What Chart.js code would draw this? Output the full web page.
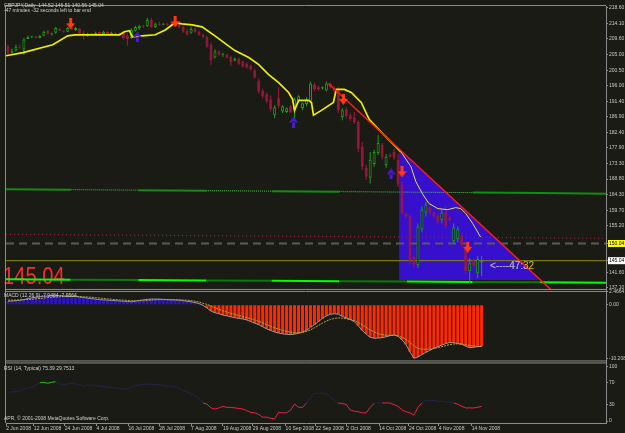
<!DOCTYPE html>
<html>
<head>
<meta charset="utf-8">
<script src="https://cdn.jsdelivr.net/npm/chart.js@4.4.1/dist/chart.umd.min.js"></script>
<style>
html,body{margin:0;padding:0;background:#1b1b15;overflow:hidden;}
canvas{display:block;}
</style>
</head>
<body>
<canvas id="c" width="625" height="433"></canvas>
<script>
// ---------------- DATA ----------------
const opens = [207.3,205.6,206.2,207.3,206.5,209.6,210.2,210.2,209.9,210.5,
212.0,211.1,211.4,212.5,212.0,211.7,212.8,212.2,212.5,211.4,
210.5,211.1,211.0,211.6,211.0,211.6,211.0,211.4,211.1,211.7,
210.5,209.9,212.0,212.8,213.4,213.3,215.1,213.1,214.0,213.7,
214.0,214.0,213.7,214.6,213.1,212.0,211.4,212.5,211.7,210.8,
210.2,207.9,204.2,205.9,205.0,205.0,204.4,203.3,203.9,203.0,
202.4,201.8,200.4,197.5,194.6,193.5,192.0,187.4,192.3,188.5,
188.3,190.0,188.8,191.4,189.4,190.6,191.4,196.3,195.5,195.2,
194.6,196.6,195.2,194.9,186.8,189.1,187.4,186.8,185.4,178.1,
172.1,169.2,173.2,176.4,178.7,172.9,175.8,176.7,174.4,167.2,
158.8,157.9,146.1,143.7,154.2,159.1,160.5,159.1,158.2,156.8,
159.4,157.6,150.7,151.3,152.4,149.0,142.0,145.2,141.4,144.52];
const highs = [207.9,206.8,207.9,207.9,209.9,210.5,210.5,210.5,210.8,212.0,
212.2,211.4,213.1,212.8,212.2,213.1,213.1,213.1,212.8,212.0,
211.4,211.4,211.7,211.7,212.0,211.8,211.7,211.7,211.4,212.0,
211.4,212.8,213.4,213.7,213.7,215.7,215.7,214.3,214.6,214.3,
214.3,214.6,215.7,214.8,213.4,212.5,213.1,212.8,212.0,211.1,
210.5,208.5,206.5,206.2,205.6,205.3,204.7,204.2,204.2,203.3,
202.7,202.1,201.0,198.1,195.2,194.0,193.2,190.3,195.5,190.3,
189.7,190.3,192.6,193.2,191.1,192.6,197.2,196.9,196.1,195.8,
197.2,196.9,195.8,195.5,189.4,189.7,188.0,188.3,185.9,179.6,
172.9,176.7,177.3,181.6,179.3,176.1,176.4,177.6,176.1,168.0,
159.1,158.5,146.6,155.9,160.8,162.2,160.8,159.4,158.5,159.9,
160.8,158.2,155.9,155.0,153.0,149.5,145.8,145.8,146.4,146.51];
const lows = [204.7,205.3,205.9,206.8,205.0,209.6,209.9,209.9,209.8,210.4,
210.8,210.5,211.1,212.0,211.4,211.6,212.2,211.9,210.8,209.4,
210.2,210.8,210.9,210.9,210.9,210.9,210.9,210.8,210.8,209.4,
207.6,209.6,211.7,212.2,212.8,213.1,212.8,212.8,213.4,213.6,
213.4,213.4,213.6,212.8,211.4,210.5,211.1,211.4,210.5,209.9,
207.0,202.1,203.9,204.7,204.4,203.9,201.8,203.0,202.1,201.3,
201.0,200.4,198.1,193.7,192.3,190.9,188.5,186.5,189.4,188.0,
188.0,188.0,186.2,190.9,188.8,190.0,190.9,194.3,194.6,194.9,
194.3,195.2,193.7,188.0,185.9,186.5,185.7,184.8,176.7,171.5,
168.6,167.5,172.4,175.8,174.4,172.1,175.0,174.4,166.6,158.5,
157.6,144.0,143.2,142.9,153.3,157.9,158.5,157.6,155.6,155.9,
154.4,156.5,149.8,150.4,149.0,141.1,138.5,143.2,140.0,140.56];
const closes = [205.6,206.2,207.3,207.0,209.4,210.2,210.3,209.9,210.5,211.7,
211.1,211.4,212.8,212.0,211.7,212.8,212.5,212.8,211.1,210.8,
211.1,211.0,211.4,211.0,211.7,211.0,211.4,211.1,211.0,209.9,
209.6,212.2,213.1,213.4,213.3,215.1,213.1,214.0,213.7,214.0,
213.7,213.7,214.8,213.1,211.7,210.8,212.5,211.7,210.8,210.2,
207.3,203.3,205.9,205.0,205.3,204.2,202.7,203.9,202.4,201.6,
201.3,200.7,198.4,194.3,192.9,191.4,189.1,189.7,190.0,190.0,
189.4,188.3,192.0,192.9,190.9,192.0,196.6,194.9,194.9,195.5,
196.6,195.5,194.3,188.8,188.8,187.1,186.2,185.4,177.6,172.4,
169.5,174.4,176.7,179.3,175.3,175.3,175.3,175.0,167.2,158.8,
157.9,145.5,144.0,155.0,159.9,161.4,159.1,157.9,156.2,159.1,
155.3,156.8,154.7,154.2,149.5,142.0,144.3,143.7,145.5,145.04];

// yellow moving line (key points: bar index, price)
const yellowX = [-0.5,3.75,11.25,15,16.75,28,29.25,30.5,31.25,33.75,37,39.5,42,43.75,46.25,48.75,52,57,60.5,63,65.5,68,70.5,71.5,72,73,75.5,76.25,76.75,78.75,81.75,82.5,84.5,86.25,88.75,90.75,93.75,96.25,98.75];
const yellowY = [204.7,205.6,207.9,210.5,210.8,210.8,211.7,212.0,210.2,210.5,210.8,212.2,214.3,214.0,213.7,213.1,210.5,206.2,204.2,202.1,199.2,196.9,194.0,192.0,188.8,191.7,191.7,191.1,187.4,188.8,191.1,194.9,194.9,194.0,191.1,186.2,182.5,179.6,176.7];
const yellowThinX = [98.75,101.25,102.5,104.25,105.75,108,110.5,112.5,113.75,115,116.75,118.75];
const yellowThinY = [176.7,172.4,168.0,164.3,161.7,160.2,159.9,160.5,160.2,158.8,155.9,151.9];

// red trend line and the filled triangle under it
const trendX = [80.5, 137];
const trendY = [196.6, 136.0];
const triangleX = [98.25, 133.8];
const triangleY = [177.56, 139.41];

// horizontal / near-horizontal level lines
const greenLineX = [-1.25,15.75,32.75,49.75,66.25,83.25,100.25,116.75,133.75,150.25];
const greenLineY = [165.86,165.72,165.57,165.43,165.28,165.14,165.0,164.86,164.71,164.56];
const greenLineSolid = [true,false,true,false,true,false,false,true,true];
const limeLineX = [-1.25,15.75,32.75,49.75,66.25,83.25,100.25,116.75,133.75,150.25];
const limeLineY = [139.61,139.5,139.39,139.28,139.17,139.06,138.95,138.84,138.74,138.63];
const limeLineBright = [true,false,true,false,true,false,true,false,true];
const dottedLineY = [152.71, 151.55];
const dashedLevel = 150.04;
const bidLevel = 145.04;

// fractal arrows
const downArrowX = [15.75, 42, 84.25, 99, 115.5];
const downArrowY = [214.0, 214.55, 192.0, 170.9, 148.95];
const upArrowX = [32.5, 71.75, 96.25];
const upArrowY = [210.2, 185.4, 170.3];

// MACD
const macdMain = [0.7,0.75,0.8,0.9,1.0,1.2,1.35,1.45,1.55,1.65,
1.7,1.75,1.75,1.75,1.7,1.7,1.65,1.6,1.5,1.4,
1.3,1.2,1.1,1.0,0.95,0.9,0.85,0.8,0.75,0.7,
0.65,0.6,0.7,0.85,0.95,1.05,1.1,1.1,1.1,1.05,
1.0,0.95,0.95,0.9,0.8,0.7,0.6,0.45,0.25,-0.1,
-0.6,-1.2,-1.5,-1.7,-1.95,-2.1,-2.3,-2.45,-2.6,-2.7,
-2.9,-3.2,-3.5,-3.8,-4.2,-4.6,-4.9,-5.2,-5.4,-5.55,
-5.65,-5.7,-5.6,-5.45,-5.2,-4.9,-4.3,-3.8,-3.2,-2.6,
-2.1,-1.8,-1.7,-1.8,-2.2,-2.5,-2.8,-3.2,-4.0,-4.9,
-5.6,-6.2,-6.4,-6.35,-6.3,-6.1,-5.9,-5.75,-6.0,-6.7,
-7.6,-9.0,-10.21,-10.0,-9.5,-9.1,-8.7,-8.3,-8.0,-7.7,
-7.4,-7.2,-7.25,-7.4,-7.55,-7.9,-8.2,-8.1,-8.0,-7.95];
const macdSignal = [0.9,0.9,0.92,0.95,0.98,1.02,1.08,1.15,1.22,1.3,
1.38,1.45,1.5,1.55,1.58,1.6,1.6,1.6,1.58,1.55,
1.5,1.45,1.38,1.3,1.22,1.15,1.08,1.0,0.95,0.9,
0.85,0.8,0.78,0.78,0.8,0.85,0.9,0.95,0.98,1.0,
1.0,1.0,0.98,0.95,0.92,0.88,0.8,0.7,0.55,0.3,
0.1,-0.2,-0.55,-0.85,-1.15,-1.4,-1.65,-1.85,-2.05,-2.25,
-2.45,-2.65,-2.9,-3.15,-3.45,-3.8,-4.1,-4.4,-4.65,-4.9,
-5.1,-5.25,-5.35,-5.35,-5.3,-5.1,-4.8,-4.4,-3.95,-3.5,
-3.1,-2.8,-2.6,-2.5,-2.55,-2.65,-2.8,-3.0,-3.35,-3.8,
-4.3,-4.8,-5.2,-5.5,-5.7,-5.8,-5.85,-5.85,-5.95,-6.2,
-6.6,-7.2,-7.9,-8.3,-8.5,-8.5,-8.45,-8.35,-8.2,-8.0,
-7.8,-7.6,-7.5,-7.45,-7.5,-7.6,-7.8,-7.9,-7.95,-7.95];

// RSI
const rsiValues = [53,53,54,55,58,60,62,66,70,71,
69,71,72,68,67,68,69,68,66,64,
66,66,65,64,63,62,61,61,60,58,
59,62,65,66,67,68,67,67,66,65,
64,64,63,60,56,53,50,46,42,33,
31,24,22,24,27,25,25,24,23,22,
19,16,15,12,7,7,5,4,16,15,
15,20,31,25,25,33,42,51,51,51,
50,45,38,33,32,30,20,18,17,15,
15,25,32,34,33,33,33,30,27,20,
17,15,11,25,33,38,38,37,36,36,
35,34,33,31,27,24,24,24,25,27];

// axis ticks
const priceTicks = [218.6,214.1,209.6,205.0,200.5,196.0,191.4,186.9,182.4,177.9,173.3,168.8,164.3,159.7,155.2,150.04,145.04,141.6,137.1];
const priceTickLabels = ['218.60','214.10','209.60','205.00','200.50','196.00','191.40','186.90','182.40','177.90','173.30','168.80','164.30','159.70','155.20','150.04','145.04','141.60','137.10'];
const macdTicks = [2.4664, 0, -10.2086];
const macdTickLabels = ['2.4664','0.00','-10.2086'];
const rsiTicks = [100, 70, 30, 0];
const rsiTickLabels = ['100','70','30','0'];
const dateLabels = ['2 Jun 2008','12 Jun 2008','24 Jun 2008','4 Jul 2008','16 Jul 2008','28 Jul 2008','7 Aug 2008','19 Aug 2008','29 Aug 2008','10 Sep 2008','22 Sep 2008','2 Oct 2008','14 Oct 2008','24 Oct 2008','4 Nov 2008','14 Nov 2008'];
const dateTickBars = [-0.45,6.5,14.25,22.25,30.25,38,46,54,61.5,69.75,77.25,85,93.25,100.75,108.25,116.5];

// texts
const titleText = 'GBPJPY,Daily  144.52 146.51 140.56 145.04';
const timerText = '-47 minutes -32 seconds left to bar end';
const bigPriceText = '145.04';
const timerArrowText = '<----47:32';
const macdTitle = 'MACD (12,26,9) -7.9484 -7.9564';
const rsiTitle = 'RSI (14, Typical) 75.39 29.7513';
const copyText = 'APR, \u00A9 2001-2008 MetaQuotes Software Corp.';

// ---------------- CHART ----------------
const BG = '#1b1b15';
const UPC = '#1aa01a', DNC = '#a0183c';
const FONT = "'Liberation Sans', Arial, sans-serif";
const AXC = '#8c8c8c';
const X_MIN = -0.5, X_MAX = 150.25;

const bars = opens.map((_, i) => i);
const isUp = i => closes[i] >= opens[i];
const pts = (xs, ys) => xs.map((x, i) => ({x: x, y: ys[i]}));
const hline = v => [{x: X_MIN, y: v}, {x: X_MAX, y: v}];

function arrowImg(color, down) {
  const c = document.createElement('canvas');
  c.width = 9; c.height = 11;
  const g = c.getContext('2d');
  g.fillStyle = color;
  g.beginPath();
  if (down) {
    g.rect(3, 0, 3, 6);
    g.moveTo(0, 5); g.lineTo(9, 5); g.lineTo(4.5, 11); g.closePath();
  } else {
    g.rect(3, 5, 3, 6);
    g.moveTo(0, 6); g.lineTo(9, 6); g.lineTo(4.5, 0); g.closePath();
  }
  g.fill();
  return c;
}

const lineBase = {type: 'line', pointRadius: 0, tension: 0, fill: false, clip: 0};

const datasets = [
  Object.assign({}, lineBase, {
    label: 'triangle', yAxisID: 'yMain', data: pts(triangleX, triangleY),
    fill: {value: triangleY[1]}, backgroundColor: '#3610cc', borderWidth: 0, order: 30
  }),
  Object.assign({}, lineBase, {
    label: 'green level', yAxisID: 'yMain', data: pts(greenLineX, greenLineY), order: 20,
    borderWidth: 2, borderColor: '#128c12',
    segment: {
      borderColor: c => greenLineSolid[c.p0DataIndex] ? '#128c12' : '#3ccc3c',
      borderDash: c => greenLineSolid[c.p0DataIndex] ? [] : [1, 1],
      borderWidth: c => greenLineSolid[c.p0DataIndex] ? 2 : 1
    }
  }),
  Object.assign({}, lineBase, {
    label: 'lime level', yAxisID: 'yMain', data: pts(limeLineX, limeLineY), order: 20,
    borderWidth: 2, borderColor: '#00ff00',
    segment: { borderColor: c => limeLineBright[c.p0DataIndex] ? '#00ff00' : '#0a7a0a' }
  }),
  Object.assign({}, lineBase, {
    label: 'dotted level', yAxisID: 'yMain', data: pts([X_MIN, X_MAX], dottedLineY), order: 20,
    borderWidth: 1, borderColor: '#a82048', borderDash: [1, 3]
  }),
  Object.assign({}, lineBase, {
    label: 'dashed level', yAxisID: 'yMain', data: hline(dashedLevel), order: 20,
    borderWidth: 2, borderColor: '#5a5a5a', borderDash: [8, 5]
  }),
  Object.assign({}, lineBase, {
    label: 'bid', yAxisID: 'yMain', data: hline(bidLevel), order: 20,
    borderWidth: 1, borderColor: '#8a8a00'
  }),
  {
    type: 'bar', label: 'wicks', yAxisID: 'yMain', order: 12, clip: 0,
    data: bars.map(i => ({x: i, y: [lows[i], highs[i]]})),
    backgroundColor: c => isUp(c.dataIndex) ? UPC : DNC,
    barThickness: 1, maxBarThickness: 1, categoryPercentage: 1, barPercentage: 1,
    grouped: false, inflateAmount: 0, borderWidth: 0
  },
  {
    type: 'bar', label: 'bodies', yAxisID: 'yMain', order: 11, clip: 0,
    data: bars.map(i => {
      let a = Math.min(opens[i], closes[i]), b = Math.max(opens[i], closes[i]);
      if (b - a < 0.3) { const m = (a + b) / 2; a = m - 0.15; b = m + 0.15; }
      return {x: i, y: [a, b]};
    }),
    backgroundColor: c => isUp(c.dataIndex) ? BG : DNC,
    borderColor: c => isUp(c.dataIndex) ? UPC : DNC,
    borderWidth: 1, borderSkipped: false,
    barThickness: 3, maxBarThickness: 3, categoryPercentage: 1, barPercentage: 1,
    grouped: false, inflateAmount: 0
  },
  Object.assign({}, lineBase, {
    label: 'yellow', yAxisID: 'yMain', data: pts(yellowX, yellowY), order: 8,
    borderWidth: 1.7, borderColor: '#eeee00'
  }),
  Object.assign({}, lineBase, {
    label: 'yellow thin', yAxisID: 'yMain', data: pts(yellowThinX, yellowThinY), order: 8,
    borderWidth: 1, borderColor: '#e2e24a'
  }),
  Object.assign({}, lineBase, {
    label: 'trend', yAxisID: 'yMain', data: pts(trendX, trendY), order: 6,
    borderWidth: 1.5, borderColor: '#ff1a1a'
  }),
  {
    type: 'scatter', label: 'down', yAxisID: 'yMain', order: 2, clip: 0,
    data: pts(downArrowX, downArrowY), pointStyle: arrowImg('#ff3a10', true), pointRadius: 5
  },
  {
    type: 'scatter', label: 'up', yAxisID: 'yMain', order: 2, clip: 0,
    data: pts(upArrowX, upArrowY), pointStyle: arrowImg('#4a1ad8', false), pointRadius: 5
  },
  // MACD panel
  {
    type: 'bar', label: 'macd hist', yAxisID: 'yMacd', order: 12, clip: 0,
    data: bars.map(i => ({x: i, y: macdMain[i]})),
    backgroundColor: c => macdMain[c.dataIndex] >= 0 ? '#2c14c4' : '#ff2a00',
    barThickness: 3, maxBarThickness: 3, categoryPercentage: 1, barPercentage: 1,
    grouped: false, inflateAmount: 0, borderWidth: 0
  },
  Object.assign({}, lineBase, {
    label: 'macd line', yAxisID: 'yMacd', data: pts(bars, macdMain), order: 8,
    borderWidth: 1, borderColor: '#9a9a9a'
  }),
  Object.assign({}, lineBase, {
    label: 'macd signal', yAxisID: 'yMacd', data: pts(bars, macdSignal), order: 7,
    borderWidth: 1, borderColor: '#b8a43a', borderDash: [2, 1]
  }),
  // RSI panel
  Object.assign({}, lineBase, {
    label: 'rsi', yAxisID: 'yRsi', data: pts(bars, rsiValues), order: 8,
    borderWidth: 1, borderColor: '#22224a',
    segment: {
      borderColor: c => {
        const a = c.p0.parsed.y, b = c.p1.parsed.y;
        if (a <= 33 && b <= 33) return '#ee1f45';
        if (a >= 69 && b >= 69) return '#22c022';
        return '#22224a';
      }
    }
  })
];

function yAxis(weight, min, max, ticks, labels) {
  return {
    type: 'linear', position: 'right', stack: 'panes', stackWeight: weight, min: min, max: max, offset: false,
    afterFit: s => { s.width = 19; s.paddingTop = 0; s.paddingBottom = 0; },
    afterBuildTicks: s => { s.ticks = ticks.map(v => ({value: v})); },
    grid: {drawOnChartArea: false, drawTicks: true, tickLength: 2, color: AXC},
    border: {display: true, color: AXC},
    ticks: {
      autoSkip: false, padding: 1, color: '#c8c8c8',
      font: {family: FONT, size: 5},
      callback: (v, i) => labels[i]
    }
  };
}

const mainAxis = yAxis(286, 136.52, 219.18, priceTicks, priceTickLabels);
mainAxis.ticks.color = c => (c.index === 15 || c.index === 16) ? '#000000' : '#c8c8c8';
mainAxis.ticks.showLabelBackdrop = c => (c.index === 15 || c.index === 16);
mainAxis.ticks.backdropColor = c => c.index === 15 ? '#ffff00' : '#ffffff';
mainAxis.ticks.backdropPadding = {top: 0.5, bottom: 0.5, left: 1, right: 4};

const decor = {
  id: 'decor',
  beforeDraw(chart) {
    const g = chart.ctx;
    g.save(); g.fillStyle = BG; g.fillRect(0, 0, chart.width, chart.height); g.restore();
  },
  beforeDatasetsDraw(chart) {
    const g = chart.ctx;
    g.save();
    g.fillStyle = '#ff2a2a';
    g.font = '24px ' + FONT;
    g.textBaseline = 'alphabetic';
    g.translate(3, 283.5);
    g.scale(0.84, 1);
    g.fillText(bigPriceText, 0, 0);
    g.restore();
  },
  afterDatasetsDraw(chart) {
    const g = chart.ctx, a = chart.chartArea;
    const ym = chart.scales.yMain, yd = chart.scales.yMacd, yr = chart.scales.yRsi, xs = chart.scales.x;
    g.save();
    g.strokeStyle = AXC; g.lineWidth = 1;
    g.beginPath();
    g.moveTo(a.left - 0.5, ym.top - 0.5); g.lineTo(a.left - 0.5, a.bottom);
    g.moveTo(a.left - 1, ym.top - 0.5); g.lineTo(a.right, ym.top - 0.5);
    g.moveTo(a.left - 1, ym.bottom - 0.5); g.lineTo(a.right, ym.bottom - 0.5);
    g.moveTo(a.left - 1, yd.top + 1.5); g.lineTo(a.right, yd.top + 1.5);
    g.moveTo(a.left - 1, yd.bottom - 0.5); g.lineTo(a.right, yd.bottom - 0.5);
    g.moveTo(a.left - 1, yr.top + 1.5); g.lineTo(a.right, yr.top + 1.5);
    g.stroke();

    g.fillStyle = '#d0d0d0';
    g.font = '5px ' + FONT;
    g.textBaseline = 'middle';
    g.fillText(titleText, 4, 5.5);
    g.fillText(timerText, 4, 10.5);
    g.fillText(macdTitle, 4, yd.top + 5.5);
    g.fillText(rsiTitle, 4, yr.top + 7);
    g.fillText(copyText, 4, yr.bottom - 4);

    g.font = '10px ' + FONT;
    g.textBaseline = 'middle';
    const tx = 490, ty = 266.5;
    g.fillStyle = '#c8c800';
    g.fillText(timerArrowText, tx, ty);
    g.save();
    g.beginPath();
    g.moveTo(xs.getPixelForValue(triangleX[0]), ym.getPixelForValue(triangleY[0]));
    g.lineTo(xs.getPixelForValue(triangleX[1]), ym.getPixelForValue(triangleY[1]));
    g.lineTo(xs.getPixelForValue(triangleX[0]), ym.getPixelForValue(triangleY[1]));
    g.closePath();
    g.clip();
    g.fillStyle = '#9a9ae8';
    g.fillText(timerArrowText, tx, ty);
    g.restore();
    g.restore();
  }
};

new Chart(document.getElementById('c'), {
  type: 'bar',
  data: {datasets: datasets},
  options: {
    responsive: false, animation: false, devicePixelRatio: 1, events: [],
    layout: {padding: {left: 3, top: 3, right: 0, bottom: 0}},
    plugins: {legend: {display: false}, tooltip: {enabled: false}, title: {display: false}},
    scales: {
      x: {
        type: 'linear', position: 'bottom', min: X_MIN, max: X_MAX, offset: false,
        afterFit: s => { s.height = 10; s.paddingLeft = 0; s.paddingRight = 0; },
        afterBuildTicks: s => { s.ticks = dateTickBars.map(v => ({value: v})); },
        grid: {drawOnChartArea: false, drawTicks: true, tickLength: 3, color: AXC, offset: false},
        border: {display: true, color: AXC},
        ticks: {
          autoSkip: false, maxRotation: 0, minRotation: 0, align: 'start', padding: 0,
          color: '#c8c8c8', font: {family: FONT, size: 5},
          callback: (v, i) => dateLabels[i]
        }
      },
      yMain: mainAxis,
      yMacd: yAxis(72, -10.837, 2.852, macdTicks, macdTickLabels),
      yRsi: yAxis(62, -3.64, 109.1, rsiTicks, rsiTickLabels)
    }
  },
  plugins: [decor]
});
</script>
</body>
</html>
